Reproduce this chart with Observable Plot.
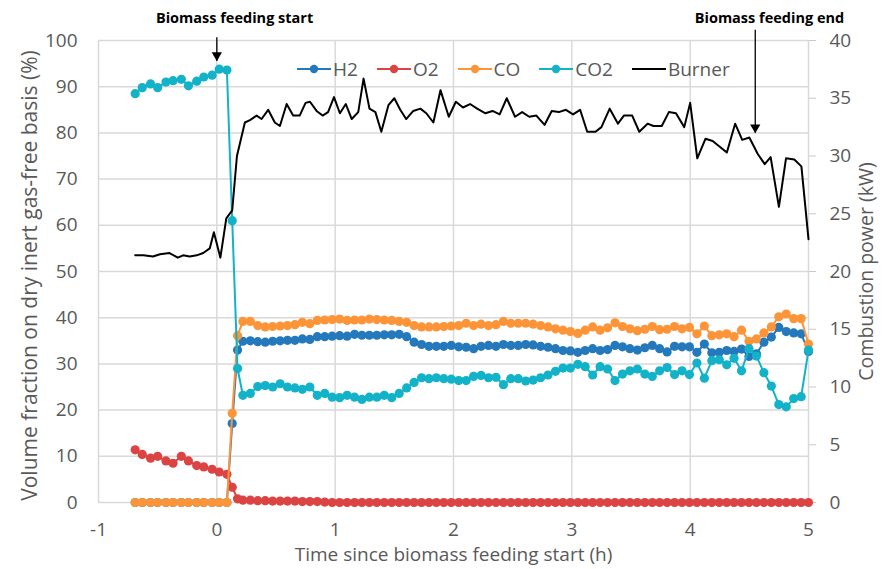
<!DOCTYPE html>
<html>
<head>
<meta charset="utf-8">
<script src="https://cdn.jsdelivr.net/npm/d3@7"></script>
<script src="https://cdn.jsdelivr.net/npm/@observablehq/plot@0.6"></script>
<style>
  body { margin: 0; background: #ffffff; }
  #chart { position: relative; width: 886px; height: 569px; font-family: "Open Sans", sans-serif; }
  #legend { position: absolute; left: 297px; top: 57px; display: flex; gap: 19px; align-items: center;
            font-size: 19px; color: #595959; line-height: 24px; }
  #legend .item { display: flex; align-items: center; }
  #legend svg { display: block; margin-right: 2px; }
</style>
</head>
<body>
<div id="chart"></div>
<script>
// ---- Data ----
const time = [-0.69,-0.63,-0.56,-0.50,-0.43,-0.37,-0.30,-0.24,-0.17,-0.11,-0.04,0.02,0.085,
  0.13,0.175,
  0.22,0.283,0.346,0.409,0.472,0.535,0.597,0.660,0.723,0.786,
  0.849,0.912,0.975,1.038,1.101,1.164,1.226,1.289,1.352,1.415,
  1.478,1.541,1.604,1.667,1.730,1.793,1.855,1.918,1.981,2.044,
  2.107,2.170,2.233,2.296,2.359,2.422,2.484,2.547,2.610,2.673,
  2.736,2.799,2.862,2.925,2.988,3.051,3.113,3.176,3.239,3.302,
  3.365,3.428,3.491,3.554,3.617,3.680,3.742,3.805,3.868,3.931,
  3.994,4.057,4.120,4.183,4.246,4.309,4.371,4.434,4.497,4.560,
  4.623,4.686,4.749,4.812,4.875,4.938,5.0];

const h2 = [0,0,0,0,0,0,0,0,0,0,0,0,0,
  17.1,33.0,
  34.9,35.0,34.8,34.7,34.9,35.0,35.1,35.1,35.4,35.3,
  35.9,35.9,36.0,36.1,36.0,36.4,36.2,36.2,36.2,36.3,
  36.3,36.4,35.9,34.7,34.2,33.8,33.8,33.8,34.0,33.7,
  33.6,33.3,33.8,34.0,33.8,34.2,34.0,34.0,34.2,34.1,
  33.8,33.6,33.3,32.9,32.8,32.5,32.9,33.3,32.9,33.1,
  34.0,33.7,33.3,33.0,33.5,34.0,33.3,32.6,33.8,33.7,
  33.7,32.5,34.3,32.4,32.5,32.9,32.7,33.2,31.6,32.2,
  34.7,35.8,37.9,37.0,36.7,36.5,32.7];

const o2 = [11.4,10.4,9.6,10.0,9.0,8.5,10.0,9.0,8.0,7.7,7.2,6.6,6.1,
  3.3,0.8,
  0.5,0.5,0.4,0.4,0.3,0.3,0.3,0.3,0.2,0.2,
  0.2,0.1,0,0,0,0,0,0,0,0,
  0,0,0,0,0,0,0,0,0,0,
  0,0,0,0,0,0,0,0,0,0,
  0,0,0,0,0,0,0,0,0,0,
  0,0,0,0,0,0,0,0,0,0,
  0,0,0,0,0,0,0,0,0,0,
  0,0,0,0,0,0,0];

const co = [0,0,0,0,0,0,0,0,0,0,0,0,0,
  19.3,36.1,
  39.2,39.2,38.3,38.0,38.1,38.2,38.3,38.5,39.0,38.7,
  39.4,39.5,39.6,39.7,39.4,39.5,39.5,39.7,39.6,39.5,
  39.4,39.2,39.0,38.3,38.0,38.0,38.0,38.1,38.2,38.3,
  38.8,38.3,38.6,38.3,38.5,39.2,38.8,38.8,38.8,38.6,
  38.3,38.0,37.6,37.3,37.0,36.6,37.3,38.0,37.3,37.8,
  38.9,38.1,37.6,37.2,37.5,38.1,37.4,37.5,38.1,37.6,
  37.9,36.5,38.2,36.1,36.3,36.5,35.9,37.3,34.9,35.4,
  36.7,38.0,40.2,40.8,39.8,39.8,34.3];

const co2 = [88.5,89.8,90.6,89.8,91.0,91.3,91.6,90.2,91.2,92.1,92.5,93.8,93.6,
  61.0,29.0,
  23.2,23.6,25.1,25.3,25.0,25.7,25.0,24.8,24.5,25.0,
  23.2,23.6,22.8,22.7,23.2,22.8,22.3,22.8,22.8,23.2,
  22.7,23.6,24.8,26.0,27.0,26.8,27.0,26.8,26.7,26.4,
  26.4,27.3,27.5,27.0,27.1,25.5,26.8,26.8,26.3,26.5,
  27.0,27.6,28.4,29.1,29.1,29.9,29.4,27.6,29.4,28.9,
  26.4,27.8,28.5,28.9,27.8,27.3,28.5,29.2,27.7,28.5,
  27.7,30.2,26.9,30.7,30.9,29.8,31.2,28.5,33.3,31.7,
  28.1,25.2,21.2,20.7,22.5,22.9,33.0];

const burnerTime = [-0.69,-0.62,-0.54,-0.48,-0.40,-0.33,-0.285,-0.23,-0.17,-0.115,-0.06,-0.025,0.03,0.08,0.13,0.17,0.237,
  0.28,0.336,0.378,0.434,0.49,0.533,0.59,0.645,0.70,0.75,
  0.787,0.843,0.894,0.94,0.99,1.04,1.09,1.14,1.195,1.24,
  1.29,1.34,1.39,1.45,1.50,1.55,1.60,1.66,1.72,1.77,
  1.83,1.89,1.96,2.02,2.08,2.14,2.20,2.27,2.33,2.39,
  2.45,2.52,2.58,2.64,2.70,2.77,2.83,2.89,2.95,3.01,
  3.07,3.13,3.20,3.25,3.32,3.39,3.44,3.51,3.57,3.64,
  3.69,3.76,3.82,3.88,3.95,4.00,4.06,4.13,4.19,4.25,
  4.31,4.38,4.44,4.50,4.57,4.63,4.68,4.75,4.81,4.88,
  4.94,5.00];
const burnerKW = [21.4,21.4,21.3,21.5,21.6,21.2,21.4,21.3,21.4,21.6,22.0,23.4,21.2,24.6,25.3,30.0,32.9,
  33.1,33.5,33.2,34.0,32.9,32.6,34.5,33.5,33.5,34.6,
  34.7,33.9,33.5,33.8,35.1,33.7,34.5,33.2,33.8,36.7,
  34.1,33.8,32.1,34.4,35.0,34.0,33.2,33.9,34.1,33.7,
  32.9,35.7,33.4,34.7,34.2,34.5,34.1,33.7,33.9,33.6,
  35.0,33.4,33.8,33.4,33.5,32.7,33.9,33.8,34.0,33.6,
  34.0,32.1,32.1,32.5,34.1,32.8,33.5,33.5,32.1,32.8,
  32.6,32.6,33.8,33.7,32.5,34.6,29.8,31.5,31.3,30.8,
  30.3,32.8,31.4,31.6,30.2,29.3,29.9,25.6,29.8,29.7,
  29.1,22.8];

const seriesNames = ["H2", "O2", "CO", "CO2"];
const seriesValues = [h2, o2, co, co2];
const burnerName = "Burner";

const xTicks = [-1, 0, 1, 2, 3, 4, 5];
const yTicks = [0, 10, 20, 30, 40, 50, 60, 70, 80, 90, 100];
const kwTicks = [0, 5, 10, 15, 20, 25, 30, 35, 40];

const annotationLabels = ["Biomass feeding start", "Biomass feeding end"];
const annotationTimes = [0, 4.55];          // where the arrows point (h)
const annotationLabelTimes = [0.15, 4.67];  // label centres (h)
const arrowTopLevels = [100.6, 102.2];      // left-axis units
const arrowTipLevels = [95.5, 79.9];
const annotationLabelLevel = 104.8;

const xTitle = "Time since biomass feeding start (h)";
const leftTitle = "Volume fraction on dry inert gas-free basis (%)";
const rightTitle = "Combustion power (kW)";

// ---- Styles ----
const colors = ["#2479bd", "#dc4343", "#fd9538", "#12b2c8"];
const gridColor = "#d9d9d9";
const textColor = "#595959";

// ---- Build ----
const leftMax = yTicks[yTicks.length - 1];
const rightMax = kwTicks[kwTicks.length - 1];
const kwToLeft = leftMax / rightMax;

const seriesRows = seriesNames.map((name, s) =>
  time.map((t, i) => ({ t, v: seriesValues[s][i], name })));
const burnerRows = burnerTime.map((t, i) => ({ t, v: burnerKW[i] * kwToLeft }));
const annotations = annotationLabels.map((label, i) => ({
  label, t: annotationTimes[i], lt: annotationLabelTimes[i],
  top: arrowTopLevels[i], tip: arrowTipLevels[i]
}));

const seriesMarks = seriesRows.flatMap((rows, s) => [
  Plot.line(rows, { x: "t", y: "v", stroke: colors[s], strokeWidth: 2 }),
  Plot.dot(rows, { x: "t", y: "v", fill: colors[s], r: 4.6, stroke: "none" })
]);

const chart = Plot.plot({
  width: 886,
  height: 569,
  marginLeft: 98,
  marginRight: 78,
  marginTop: 40,
  marginBottom: 67,
  style: { fontFamily: "'Open Sans', sans-serif", fontSize: "19px", color: textColor, background: "#ffffff", overflow: "visible" },
  x: { domain: [xTicks[0], xTicks[xTicks.length - 1]] },
  y: { domain: [0, leftMax] },
  marks: [
    Plot.gridX(xTicks, { stroke: gridColor, strokeOpacity: 1, strokeWidth: 1.5 }),
    Plot.gridY(yTicks, { stroke: gridColor, strokeOpacity: 1, strokeWidth: 1.5 }),
    Plot.axisX(xTicks, { tickSize: 0, tickPadding: 20, label: null, fill: textColor, tickFormat: d => String(d) }),
    Plot.axisY(yTicks, { anchor: "left", tickSize: 0, tickPadding: 21, label: null, fill: textColor, tickFormat: d => String(d) }),
    Plot.axisY(kwTicks.map(k => k * kwToLeft), {
      anchor: "right", tickSize: 7, tickPadding: 14, label: null,
      stroke: "#c8c8c8", fill: textColor, tickFormat: d => String(d / kwToLeft)
    }),
    Plot.text([xTitle], { frameAnchor: "bottom", textAnchor: "middle", dy: 58, fill: textColor, fontSize: 19 }),
    Plot.text([leftTitle], { frameAnchor: "left", textAnchor: "middle", rotate: -90, dx: -68, dy: 4, fill: textColor, fontSize: 21 }),
    Plot.text([rightTitle], { frameAnchor: "right", textAnchor: "middle", rotate: -90, dx: 58, fill: textColor, fontSize: 19.5 }),
    ...seriesMarks,
    Plot.line(burnerRows, { x: "t", y: "v", stroke: "#000000", strokeWidth: 2 }),
    Plot.ruleX(annotations, { x: "t", y1: "top", y2: "tip", stroke: "#000000", strokeWidth: 1.3 }),
    Plot.dot(annotations, { x: "t", y: "tip", symbol: "triangle", rotate: 180, r: 3.8, fill: "#000000", stroke: "none", dy: -6 }),
    Plot.text(annotations, { x: "lt", y: () => annotationLabelLevel, text: "label", fill: "#000000", fontWeight: "bold", fontSize: 14.5 })
  ]
});

const container = document.getElementById("chart");
container.appendChild(chart);

// Legend inside the plot area (HTML overlay)
const legend = document.createElement("div");
legend.id = "legend";
const legendItems = seriesNames.map((name, s) => ({ name, color: colors[s], marker: true }))
  .concat([{ name: burnerName, color: "#000000", marker: false }]);
for (const item of legendItems) {
  const el = document.createElement("div");
  el.className = "item";
  const ns = "http://www.w3.org/2000/svg";
  const svg = document.createElementNS(ns, "svg");
  svg.setAttribute("width", "34");
  svg.setAttribute("height", "12");
  const line = document.createElementNS(ns, "line");
  line.setAttribute("x1", "0"); line.setAttribute("x2", "34");
  line.setAttribute("y1", "6"); line.setAttribute("y2", "6");
  line.setAttribute("stroke", item.color); line.setAttribute("stroke-width", "2");
  svg.appendChild(line);
  if (item.marker) {
    const c = document.createElementNS(ns, "circle");
    c.setAttribute("cx", "17"); c.setAttribute("cy", "6"); c.setAttribute("r", "4.2");
    c.setAttribute("fill", item.color);
    svg.appendChild(c);
  }
  el.appendChild(svg);
  const span = document.createElement("span");
  span.textContent = item.name;
  el.appendChild(span);
  legend.appendChild(el);
}
container.appendChild(legend);
</script>
</body>
</html>
